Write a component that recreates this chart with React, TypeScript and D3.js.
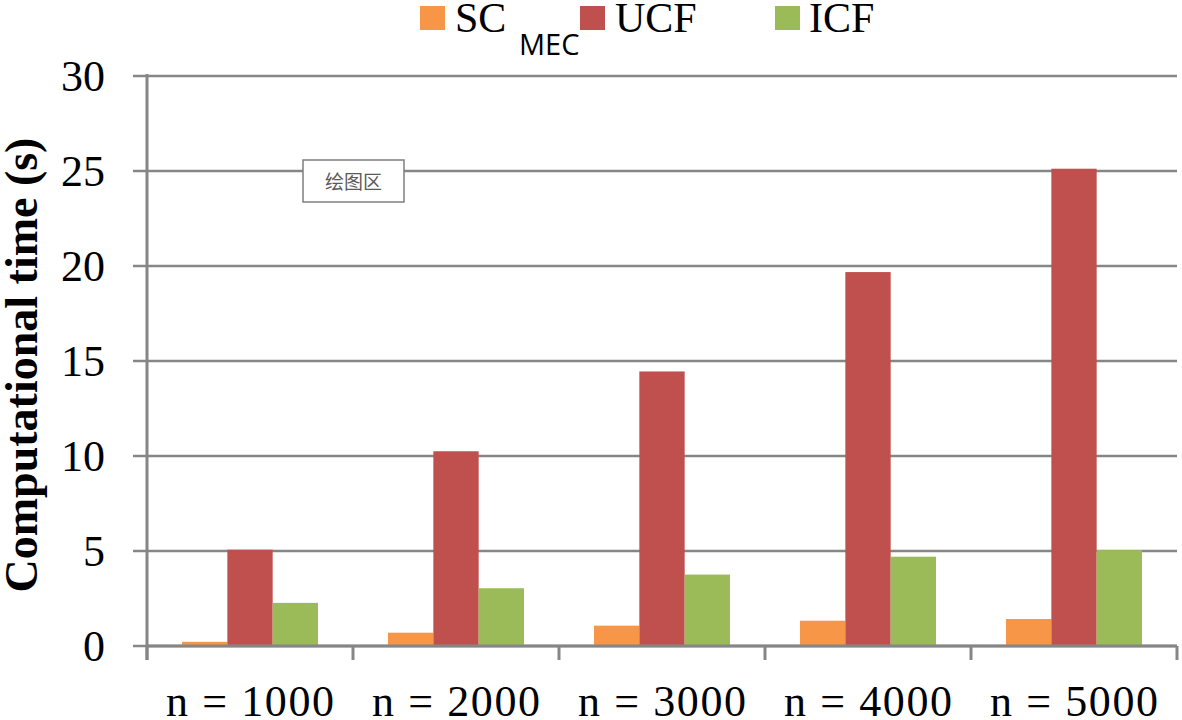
import React from "react";
import * as d3 from "d3";

const categories = ["n = 1000", "n = 2000", "n = 3000", "n = 4000", "n = 5000"];
const seriesKeys = ["SC", "UCF", "ICF"];
const scValues = [0.22, 0.7, 1.07, 1.33, 1.42];
const ucfValues = [5.07, 10.25, 14.45, 19.68, 25.12];
const icfValues = [2.27, 3.04, 3.76, 4.7, 5.05];
const yTicks = [0, 5, 10, 15, 20, 25, 30];
const colors = ["#F79646", "#C0504D", "#9BBB59"];

const W = 1182;
const H = 720;
const left = 147;
const right = 1177;
const top = 76;
const bottom = 646;

export default function App() {
  const x0 = d3.scaleBand<string>().domain(categories).range([left, right]).paddingInner(0.34).paddingOuter(0.17);
  const x1 = d3.scaleBand<string>().domain(seriesKeys).range([0, x0.bandwidth()]);
  const y = d3.scaleLinear().domain([0, 30]).range([bottom, top]);
  const values = [scValues, ucfValues, icfValues];
  const step = (right - left) / categories.length;
  const gray = "#868686";
  const serif = "'Liberation Serif', 'Times New Roman', serif";

  return (
    <svg width={W} height={H} style={{ position: "absolute", left: 0, top: 0, background: "#fff" }}>
      {yTicks.map((t) => (
        <line key={"g" + t} x1={left - 14} x2={right} y1={y(t)} y2={y(t)} stroke={gray} strokeWidth={2.5} />
      ))}
      {categories.map((c, i) => (
        <g key={c} transform={`translate(${x0(c)},0)`}>
          {seriesKeys.map((s, j) => (
            <rect
              key={s}
              x={x1(s)!}
              y={y(values[j][i])}
              width={x1.bandwidth()}
              height={y(0) - y(values[j][i])}
              fill={colors[j]}
            />
          ))}
        </g>
      ))}
      <line x1={left} x2={left} y1={top - 2} y2={bottom + 14} stroke={gray} strokeWidth={3} />
      <line x1={left} x2={right} y1={bottom} y2={bottom} stroke={gray} strokeWidth={3} />
      {d3.range(categories.length + 1).map((k) => (
        <line key={"xt" + k} x1={left + k * step} x2={left + k * step} y1={bottom} y2={bottom + 14} stroke={gray} strokeWidth={3} />
      ))}
      {yTicks.map((t) => (
        <text key={"yl" + t} x={105} y={y(t) + 15} textAnchor="end" fontFamily={serif} fontSize={44} fill="#000">
          {t}
        </text>
      ))}
      {categories.map((c) => (
        <text
          key={"xl" + c}
          x={x0(c)! + x0.bandwidth() / 2}
          y={716}
          textAnchor="middle"
          fontFamily={serif}
          fontSize={44}
          textLength={168}
          lengthAdjust="spacing"
          fill="#000"
        >
          {c}
        </text>
      ))}
      <text
        transform={`translate(37,365) rotate(-90)`}
        textAnchor="middle"
        fontFamily={serif}
        fontWeight="bold"
        fontSize={46}
        fill="#000"
      >
        Computational time (s)
      </text>
      <rect x={420} y={6} width={25} height={24} fill={colors[0]} />
      <text x={455} y={32} fontFamily={serif} fontSize={42} fill="#000">SC</text>
      <text x={519} y={55} fontFamily="'Open Sans', 'DejaVu Sans', sans-serif" fontSize={29} fill="#000">MEC</text>
      <rect x={580} y={6} width={25} height={24} fill={colors[1]} />
      <text x={615} y={32} fontFamily={serif} fontSize={42} fill="#000">UCF</text>
      <rect x={775} y={6} width={25} height={24} fill={colors[2]} />
      <text x={809} y={32} fontFamily={serif} fontSize={42} fill="#000">ICF</text>
      <rect x={303} y={160} width={101} height={42} fill="#fff" stroke="#7f7f7f" strokeWidth={1.5} />
      <text x={353.5} y={189} textAnchor="middle" fontFamily="'Noto Sans CJK SC', sans-serif" fontSize={19} fill="#595959">
        绘图区
      </text>
    </svg>
  );
}
